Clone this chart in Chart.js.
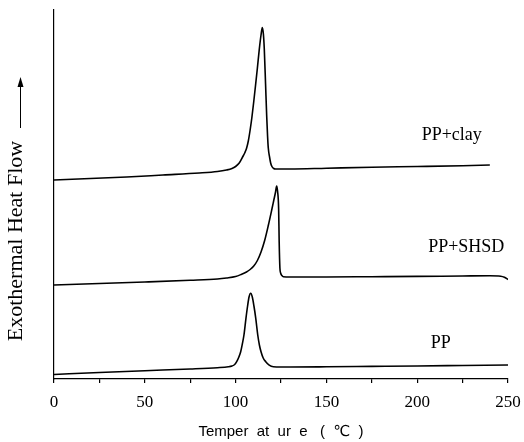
<!DOCTYPE html>
<html>
<head>
<meta charset="utf-8">
<script src="https://cdn.jsdelivr.net/npm/chart.js@4.4.1/dist/chart.umd.min.js"></script>
<style>
  body { margin: 0; background: #fff; }
</style>
</head>
<body>
<canvas id="dscChart" width="524" height="442"></canvas>
<script>
// DSC cooling traces, heat flow in arbitrary units (curves are offset vertically)
const tempClay = [0, 20, 40, 60, 80, 90, 95, 98, 100, 102, 104, 105, 106, 107, 108, 109, 110, 111, 112, 113, 114, 114.7,
  115.3, 115.8, 116.5, 117.1, 117.6, 118, 118.7, 119.3, 120, 121, 122, 130, 150, 175, 200, 225, 240];
const flowClay = [199, 200.5, 202, 204, 206, 207.5, 209, 210.5, 212.5, 216, 222.5, 226, 230.5, 238, 249, 262, 277.5, 294, 311, 329, 344, 351.5,
  345, 330, 295, 264, 243, 231, 222, 216, 212.5, 210.5, 210, 210, 210.8, 211.8, 212.5, 213.3, 214];

const tempShsd = [0, 25, 50, 75, 90, 95, 100, 103, 106, 108, 110, 112, 114, 116, 118, 120, 121, 122, 122.6,
  123.1, 123.7, 124, 124.4, 124.8, 125.5, 126.3, 130, 150, 175, 200, 225, 240, 246, 248, 250];
const flowShsd = [94, 95.5, 97, 98.7, 100, 101, 102.5, 104.5, 107, 109.5, 113, 118.5, 127, 138.5, 153.5, 170, 178.5, 187, 193,
  188, 170, 137, 111, 106, 103.5, 102.3, 102, 102, 102.3, 102.6, 103, 103.2, 102.8, 101.8, 99.5];

const tempPP = [0, 25, 50, 75, 90, 96, 98, 99.5, 100.6, 101.8, 102.8, 103.7, 104.6, 105.7, 106.6, 107.4, 108.3,
  109.2, 110.1, 111.1, 112.2, 113.1, 114, 115.2, 116.6, 118.5, 120.8, 130, 150, 175, 200, 225, 250];
const flowPP = [4.5, 6.5, 8.3, 10, 11.3, 12.2, 13, 14.5, 17.3, 22, 27.3, 35, 44, 60.7, 73, 82, 85.7,
  82, 73, 60.7, 44, 34, 27.3, 21, 17.3, 13.8, 12.3, 12, 12.2, 12.6, 13, 13.5, 14];

const majorTicks = [0, 50, 100, 150, 200, 250];

const curveNames = ['PP+clay', 'PP+SHSD', 'PP'];
const curveNameAt = [[219, 244], [227, 132], [213, 36]];

function toPoints(xs, ys) {
  return xs.map((x, i) => ({ x: x, y: ys[i] }));
}

function traceDataset(label, xs, ys) {
  return {
    label: label,
    data: toPoints(xs, ys),
    borderColor: '#000',
    borderWidth: 1.6,
    pointRadius: 0,
    fill: false,
    cubicInterpolationMode: 'monotone'
  };
}

// curve names and the rotated y title with its arrow
const annotations = {
  id: 'annotations',
  afterDraw(chart) {
    const ctx = chart.ctx;
    const xs = chart.scales.x;
    const ys = chart.scales.y;
    ctx.save();
    ctx.fillStyle = '#000';
    ctx.font = '18px "Liberation Serif"';
    ctx.textAlign = 'center';
    ctx.textBaseline = 'middle';
    curveNames.forEach((name, i) => {
      ctx.fillText(name, xs.getPixelForValue(curveNameAt[i][0]), ys.getPixelForValue(curveNameAt[i][1]));
    });

    ctx.save();
    ctx.translate(16, 241);
    ctx.rotate(-Math.PI / 2);
    ctx.font = '22px "Liberation Serif"';
    ctx.fillText('Exothermal Heat Flow', 0, 0);
    ctx.restore();

    ctx.strokeStyle = '#000';
    ctx.lineWidth = 1;
    ctx.beginPath();
    ctx.moveTo(20.5, 128);
    ctx.lineTo(20.5, 84);
    ctx.stroke();
    ctx.beginPath();
    ctx.moveTo(20.5, 77);
    ctx.lineTo(17.5, 87);
    ctx.lineTo(23.5, 87);
    ctx.closePath();
    ctx.fill();
    ctx.restore();
  }
};

new Chart(document.getElementById('dscChart'), {
  type: 'line',
  data: {
    datasets: [
      traceDataset('PP+clay', tempClay, flowClay),
      traceDataset('PP+SHSD', tempShsd, flowShsd),
      traceDataset('PP', tempPP, flowPP)
    ]
  },
  options: {
    responsive: false,
    devicePixelRatio: 1,
    animation: false,
    layout: { padding: { left: 54, right: 16, top: 10, bottom: 0 } },
    plugins: {
      legend: { display: false },
      tooltip: { enabled: false }
    },
    scales: {
      x: {
        type: 'linear',
        min: 0,
        max: 250,
        afterFit(scale) {
          scale.height = 63;
          scale.paddingLeft = 0;
          scale.paddingRight = 0;
        },
        border: { display: true, color: '#000', width: 1.2 },
        grid: { drawOnChartArea: false, drawTicks: true, tickLength: 4, color: '#000', lineWidth: 1.2 },
        ticks: {
          stepSize: 25,
          autoSkip: false,
          maxRotation: 0,
          padding: 9,
          color: '#000',
          font: { family: '"Liberation Serif"', size: 17 },
          callback: v => majorTicks.includes(v) ? String(v) : ''
        },
        title: {
          display: true,
          text: 'Temper  at  ur  e   (  ℃  )',
          color: '#000',
          font: { family: '"Liberation Sans", "DejaVu Sans"', size: 15 },
          padding: { top: 5, bottom: 1 }
        }
      },
      y: {
        min: 0,
        max: 369,
        border: { display: true, color: '#000', width: 1.2 },
        grid: { display: false, drawTicks: false },
        ticks: { display: false }
      }
    }
  },
  plugins: [annotations]
});
</script>
</body>
</html>
